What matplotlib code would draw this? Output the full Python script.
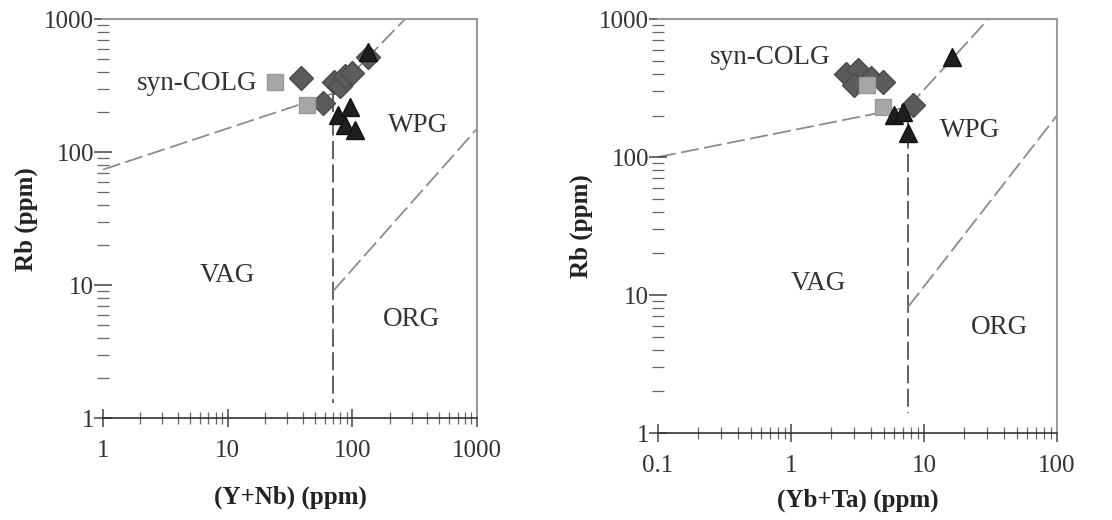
import numpy as np
import matplotlib.pyplot as plt
from matplotlib.ticker import FixedLocator, LogLocator, NullFormatter

plt.rcParams.update(
    {
        "font.family": ["Liberation Serif", "DejaVu Serif"],
        "font.size": 18,
        "axes.labelsize": 18,
        "xtick.labelsize": 18,
        "ytick.labelsize": 18,
    }
)

# %% datos
# Rb vs (Y+Nb)
yn_sq_x = [24, 43]
yn_sq_y = [335, 228]
yn_dia_x = [39, 58, 72, 80, 87, 99, 133]
yn_dia_y = [359, 236, 335, 312, 371, 391, 520]
yn_tri_x = [77, 96, 87, 105, 133]
yn_tri_y = [192, 217, 161, 148, 570]

# Rb vs (Yb+Ta)
ybta_sq_x = [3.7, 4.9]
ybta_sq_y = [332, 230]
ybta_dia_x = [2.6, 3.2, 4.0, 4.9, 3.0, 8.3]
ybta_dia_y = [399, 427, 374, 349, 332, 238]
ybta_tri_x = [6.0, 7.0, 7.6, 16.2]
ybta_tri_y = [201, 212, 149, 531]

# limites de campos (Pearce et al.)
yn_lineas = [
    ([1, 70], [74, 276]),
    ([70, 264], [276, 1000]),
    ([70, 70], [276, 1.3]),
    ([70, 1000], [9, 150]),
]
ybta_lineas = [
    ([0.1, 7.6], [100, 230]),
    ([7.6, 30.5], [230, 1000]),
    ([7.6, 7.6], [230, 1.4]),
    ([7.6, 100], [8.2, 200]),
]

yn_campos = [("syn-COLG", 0.251, 0.840), ("WPG", 0.842, 0.734),
             ("VAG", 0.332, 0.358), ("ORG", 0.826, 0.248)]
ybta_campos = [("syn-COLG", 0.281, 0.908), ("WPG", 0.782, 0.732),
               ("VAG", 0.401, 0.362), ("ORG", 0.857, 0.254)]

c_sq = "#a6a6a6"
c_dia = "#5c5c5c"
c_tri = "#1e1e1e"
c_lin = "#8c8c8c"


def armar_eje(ax, xlim, xticks, lineas, campos, sq, dia, tri, xlabel, xlabelpad):
    ax.set_xscale("log")
    ax.set_yscale("log")
    ax.set_xlim(*xlim)
    ax.set_ylim(1, 1000)

    for i, (lx, ly) in enumerate(lineas):
        col = "#555555" if i == 2 else c_lin
        ax.plot(lx, ly, color=col, lw=1.3, dashes=(10, 3), zorder=1)

    ax.plot(dia[0], dia[1], "D", ms=12, color=c_dia, mec="#4a4a4a", zorder=2)
    ax.plot(sq[0], sq[1], "s", ms=11, color=c_sq, mec="#999999", zorder=3)
    ax.plot(tri[0], tri[1], "^", ms=13.5, color=c_tri, mec="#111111", zorder=4)

    for txt, fx, fy in campos:
        ax.text(fx, fy, txt, transform=ax.transAxes, ha="center", va="center",
                fontsize=19.5, color="#333333")

    ax.xaxis.set_major_locator(FixedLocator(xticks))
    ax.set_xticklabels([f"{t:g}" for t in xticks])
    ax.xaxis.set_minor_locator(LogLocator(base=10, subs=np.arange(2, 10)))
    ax.xaxis.set_minor_formatter(NullFormatter())
    ax.yaxis.set_major_locator(FixedLocator([1, 10, 100, 1000]))
    ax.set_yticklabels(["1", "10", "100", "1000"])
    ax.yaxis.set_minor_locator(LogLocator(base=10, subs=np.arange(2, 10)))
    ax.yaxis.set_minor_formatter(NullFormatter())

    ax.tick_params(which="major", direction="inout", length=13, width=1.1,
                   color="#444444", labelcolor="#333333")
    ax.tick_params(which="minor", direction="inout", length=9, width=0.9,
                   color="#666666")
    ax.tick_params(axis="x", which="major", pad=9)
    ax.tick_params(axis="y", which="major", pad=0)

    ax.spines["left"].set_visible(False)
    ax.spines["bottom"].set_color("#333333")
    ax.spines["bottom"].set_linewidth(1.2)
    for s in ["top", "right"]:
        ax.spines[s].set_color("#9a9a9a")
        ax.spines[s].set_linewidth(1.5)

    ax.set_xlabel(xlabel, fontweight="bold", labelpad=xlabelpad, color="#222222")
    ax.set_ylabel("Rb (ppm)", fontweight="bold", labelpad=4, color="#222222")


fig = plt.figure(figsize=(11.12, 5.2), dpi=100)
ax1 = fig.add_axes([0.0926, 0.196, 0.3363, 0.767])
ax2 = fig.add_axes([0.5917, 0.1673, 0.3588, 0.796])

armar_eje(ax1, (1, 1000), [1, 10, 100, 1000], yn_lineas, yn_campos,
          (yn_sq_x, yn_sq_y), (yn_dia_x, yn_dia_y), (yn_tri_x, yn_tri_y),
          "(Y+Nb) (ppm)", 17)
armar_eje(ax2, (0.1, 100), [0.1, 1, 10, 100], ybta_lineas, ybta_campos,
          (ybta_sq_x, ybta_sq_y), (ybta_dia_x, ybta_dia_y), (ybta_tri_x, ybta_tri_y),
          "(Yb+Ta) (ppm)", 9)

fig.savefig("out.png", dpi=100)
